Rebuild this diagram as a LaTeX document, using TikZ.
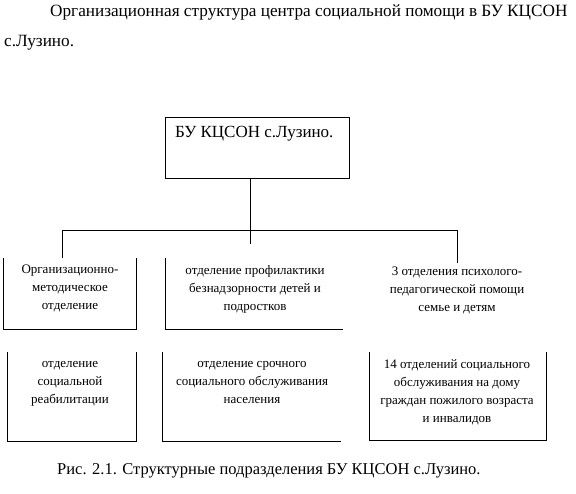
\documentclass[tikz,border=0pt]{standalone}
\usepackage{fontspec}
\setmainfont{Liberation Serif}
\begin{document}
\begin{tikzpicture}[x=1pt,y=-1pt,
  ln/.style={line width=0.9pt,black},
  boxarea/.style={draw=none,inner sep=0pt,minimum width=#1,anchor=north west},
  txt/.style={font=\fontsize{13}{18}\selectfont,align=center,inner sep=0pt,anchor=north},
]
\useasboundingbox (0,0) rectangle (576,494);
% title
\node[anchor=base west,inner sep=0pt,font=\fontsize{17.2}{18}\selectfont] (title1) at (50,17) {Организационная структура центра социальной помощи в БУ КЦСОН};
\node[anchor=base west,inner sep=0pt,font=\fontsize{17.2}{18}\selectfont] (title2) at (4,47) {с.Лузино.};
% top box
\node[draw,ln,minimum width=184pt,minimum height=61pt,inner sep=0pt,anchor=north west] (top) at (165,117) {};
\node[anchor=base west,inner sep=0pt,font=\fontsize{17}{18}\selectfont] (toptxt) at (175,138) {БУ КЦСОН с.Лузино.};
% second-row areas
\node[boxarea=133pt,minimum height=71pt] (a1) at (3,258) {};
\node[boxarea=178pt,minimum height=71pt] (a2) at (165,258) {};
\node[draw,ln,boxarea=182pt,minimum height=66pt] (a3) at (369,263) {};
% third-row areas
\node[boxarea=129pt,minimum height=89pt] (b1) at (7,352) {};
\node[boxarea=179pt,minimum height=89pt] (b2) at (162,352) {};
\node[boxarea=177pt,minimum height=88pt] (b3) at (369,352) {};
% partial borders
\draw[ln] (a1.north west) -- (a1.south west) -- (a1.south east) -- (a1.north east);
\draw[ln] (a2.north west) -- (a2.south west) -- (a2.south east);
\draw[ln] (b1.north west) -- (b1.south west) -- (b1.south east) -- (b1.north east);
\draw[ln] (b2.north west) -- (b2.south west) -- (b2.south east);
\draw[ln] (b3.north west) -- (b3.south west) -- (b3.south east) -- (b3.north east);
% connectors
\coordinate (hl) at (62,230);
\coordinate (hr) at (457,230);
\coordinate (hc) at (250,244);
\draw[ln] (top.south -| hc) -- (hc);
\draw[ln] (a1.north west -| hl) -- (hl) -- (hr) -- (a3.north -| hr);
% texts
\node[txt] (ta1) at (70,265) {Организационно-\\методическое\\отделение};
\node[txt] (ta2) at (255,265) {отделение профилактики\\безнадзорности детей и\\подростков};
\node[txt] (ta3) at (457,267) {3 отделения психолого-\\педагогической помощи\\семье и детям};
\node[txt] (tb1) at (70,361) {отделение\\социальной\\реабилитации};
\node[txt] (tb2) at (252,361) {отделение срочного\\социального обслуживания\\населения};
\node[txt] (tb3) at (457,359) {14 отделений социального\\обслуживания на дому\\граждан пожилого возраста\\и инвалидов};
% caption
\node[anchor=base west,inner sep=0pt,font=\fontsize{16.5}{18}\selectfont] (cap) at (57,474) {Рис. 2.1. Структурные подразделения БУ КЦСОН с.Лузино.};
\end{tikzpicture}
\end{document}
